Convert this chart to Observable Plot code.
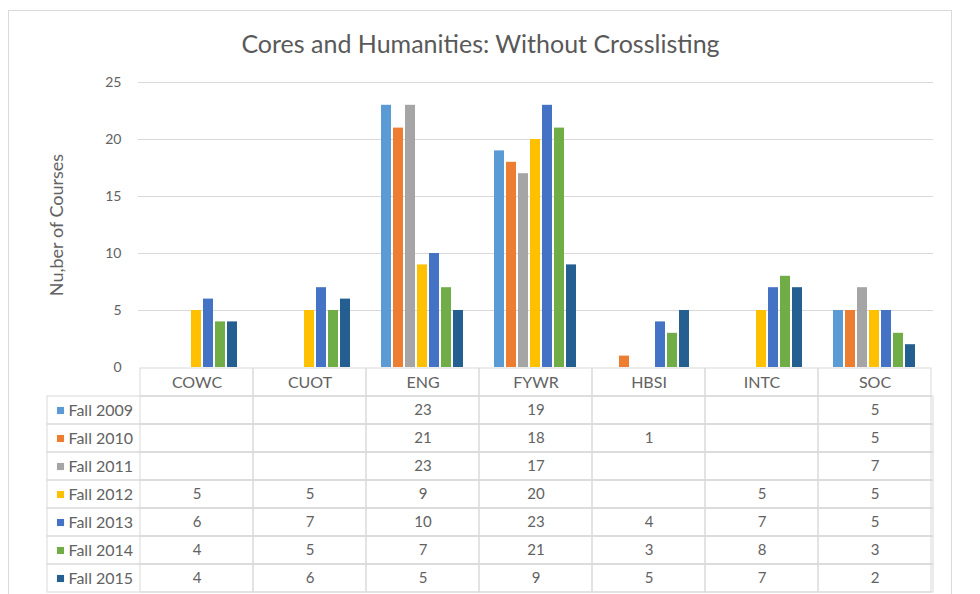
<!DOCTYPE html>
<html>
<head>
<meta charset="utf-8">
<script src="https://cdn.jsdelivr.net/npm/d3@7"></script>
<script src="https://cdn.jsdelivr.net/npm/@observablehq/plot@0.6"></script>
<style>
  html, body { margin: 0; padding: 0; background: #fff; }
  #chart { position: relative; width: 980px; height: 594px; background: #fff; overflow: hidden; font-family: Lato, "Open Sans", sans-serif; }
  #frame { position: absolute; left: 8px; top: 10px; width: 944px; height: 600px; border: 1px solid #d9d9d9; box-sizing: border-box; }
  #title { position: absolute; left: 8px; top: 28px; width: 945px; text-align: center; font-size: 25px; color: #595959; font-family: Lato, sans-serif; }
  .layer { position: absolute; left: 0; }
</style>
</head>
<body>
<div id="chart">
  <div id="frame"></div>
  <div id="title">Cores and Humanities: Without Crosslisting</div>
</div>
<script>
const categories = ["COWC", "CUOT", "ENG", "FYWR", "HBSI", "INTC", "SOC"];
const series = ["Fall 2009", "Fall 2010", "Fall 2011", "Fall 2012", "Fall 2013", "Fall 2014", "Fall 2015"];
const colors = ["#5B9BD5", "#ED7D31", "#A5A5A5", "#FFC000", "#4472C4", "#70AD47", "#255E91"];
const fall2009 = [null, null, 23, 19, null, null, 5];
const fall2010 = [null, null, 21, 18, 1, null, 5];
const fall2011 = [null, null, 23, 17, null, null, 7];
const fall2012 = [5, 5, 9, 20, null, 5, 5];
const fall2013 = [6, 7, 10, 23, 4, 7, 5];
const fall2014 = [4, 5, 7, 21, 3, 8, 3];
const fall2015 = [4, 6, 5, 9, 5, 7, 2];
const yTicks = [0, 5, 10, 15, 20, 25];
const yLabel = "Nu,ber of Courses";

const valuesBySeries = [fall2009, fall2010, fall2011, fall2012, fall2013, fall2014, fall2015];
const records = [];
series.forEach((s, i) => {
  valuesBySeries[i].forEach((v, j) => {
    if (v != null) records.push({series: s, category: categories[j], value: v});
  });
});
const HEADER = "_header";
const rowKeys = [HEADER, ...series];
const gridCells = [];
rowKeys.forEach(r => categories.forEach(c => gridCells.push({row: r, category: c})));

const textColor = "#626262";
const gridColor = "#d9d9d9";
const font = "Lato, 'Open Sans', sans-serif";

const chart = document.getElementById("chart");

// Layer A: y axis, gridlines, y label
const axisPlot = Plot.plot({
  width: 980, height: 400,
  marginTop: 82, marginBottom: 33, marginLeft: 138, marginRight: 47,
  style: {background: "transparent", fontFamily: font, fontSize: "14px", color: textColor},
  x: {axis: null},
  y: {domain: [0, 25], ticks: yTicks, tickSize: 0, tickPadding: 17, label: null},
  marks: [
    Plot.ruleY(yTicks.filter(d => d > 0), {stroke: gridColor, strokeWidth: 1}),
    Plot.text([yLabel], {text: d => d, frameAnchor: "left", textAnchor: "middle", rotate: -90, dx: -81, fill: textColor, fontSize: 18})
  ]
});

// Layer B: clustered bars
const barPlot = Plot.plot({
  width: 980, height: 400,
  marginTop: 82, marginBottom: 33, marginLeft: 138, marginRight: 47,
  style: {background: "transparent"},
  facet: {data: records, x: "category"},
  fx: {domain: categories, axis: null, paddingInner: 0.22, paddingOuter: 0.11},
  x: {domain: series, axis: null, paddingInner: 0.2, paddingOuter: 0},
  y: {domain: [0, 25], axis: null},
  color: {domain: series, range: colors},
  marks: [
    Plot.barY(records, {x: "series", y: "value", fill: "series"})
  ]
});

// Layer C: data table
const tablePlot = Plot.plot({
  width: 980, height: 228,
  marginTop: 0, marginBottom: 2, marginLeft: 47, marginRight: 47,
  style: {background: "transparent", fontFamily: font, fontSize: "15px", color: textColor},
  x: {domain: categories, axis: null, padding: 0, insetLeft: 91},
  y: {domain: rowKeys, axis: null, padding: 0},
  color: {domain: series, range: colors},
  marks: [
    Plot.cell(series, {y: d => d, stroke: gridColor, fill: "none"}),
    Plot.cell(gridCells, {x: "category", y: "row", stroke: gridColor, fill: "none"}),
    Plot.text(categories, {x: d => d, y: () => HEADER, text: d => d, fill: textColor, fontSize: 16}),
    Plot.text(records, {x: "category", y: "series", text: d => String(d.value), fill: textColor, fontSize: 15}),
    Plot.dot(series, {y: d => d, frameAnchor: "left", dx: 13, symbol: "square", r: 4, fill: d => d}),
    Plot.text(series, {y: d => d, text: d => d, frameAnchor: "left", dx: 21, textAnchor: "start", fill: textColor, fontSize: 16})
  ]
});

[axisPlot, barPlot].forEach(p => { p.classList.add("layer"); p.style.top = "0px"; chart.appendChild(p); });
tablePlot.classList.add("layer");
tablePlot.style.top = "367px";
chart.appendChild(tablePlot);
</script>
</body>
</html>
